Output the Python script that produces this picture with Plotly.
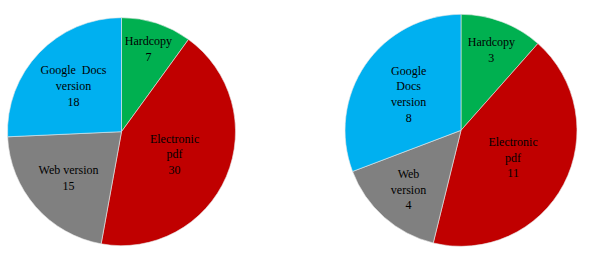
import plotly.graph_objects as go

categories = ["Hardcopy", "Electronic pdf", "Web version", "Google Docs version"]
left_values = [7, 30, 15, 18]
right_values = [3, 11, 4, 8]
left_labels = ["Hardcopy", "Electronic<br>pdf", "Web version", "Google  Docs<br>version"]
right_labels = ["Hardcopy", "Electronic<br>pdf", "Web<br>version", "Google<br>Docs<br>version"]
colors = ["#00B050", "#C00000", "#808080", "#00B0F0"]

fig = go.Figure()
for vals, labs, dom in [
    (left_values, left_labels, dict(x=[0.0125, 0.3925], y=[0.0764, 0.9336])),
    (right_values, right_labels, dict(x=[0.575, 0.9617], y=[0.074, 0.946])),
]:
    fig.add_trace(go.Pie(
        labels=categories,
        values=vals,
        text=labs,
        texttemplate="%{text}<br>%{value}",
        textposition="inside",
        insidetextorientation="horizontal",
        sort=False,
        direction="clockwise",
        rotation=0,
        marker=dict(colors=colors, line=dict(color="#E8E8E8", width=0.6)),
        textfont=dict(family="Liberation Serif, Times New Roman, serif", size=12, color="black"),
        hoverinfo="label+value",
        domain=dom,
        showlegend=False,
    ))

fig.update_layout(
    width=600, height=266,
    margin=dict(l=0, r=0, t=0, b=0),
    paper_bgcolor="white",
    plot_bgcolor="white",
    uniformtext=dict(minsize=12, mode="show"),
)
fig.write_html("out.html")
